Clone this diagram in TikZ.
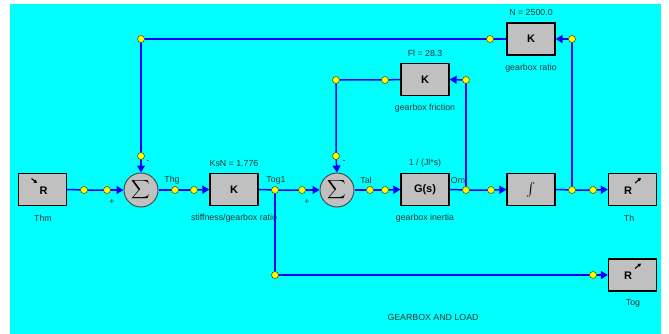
\documentclass[tikz,border=0pt]{standalone}
\usepackage{fontspec}
\setmainfont{Liberation Sans}
\usetikzlibrary{arrows.meta}
\definecolor{bgcyan}{RGB}{0,255,255}
\definecolor{wireblue}{RGB}{0,0,255}
\definecolor{boxgray}{RGB}{192,192,192}
\definecolor{dotyellow}{RGB}{255,255,0}
\definecolor{dotedge}{RGB}{90,90,0}
\pgfdeclarelayer{bgl}
\pgfdeclarelayer{wires}
\pgfsetlayers{bgl,wires,main}
\begin{document}
\begin{tikzpicture}[x=1pt,y=-1pt,
  font=\fontsize{8.8}{10}\selectfont,
  blk/.style={rectangle,draw=black,line width=1.3pt,fill=boxgray,minimum width=48pt,minimum height=32pt,inner sep=0pt,font=\fontsize{11}{12}\selectfont\bfseries},
  sumnode/.style={circle,draw=black!70,line width=1pt,fill=boxgray,minimum size=34pt,inner sep=0pt},
  pdot/.style={circle,draw=dotedge,line width=0.6pt,fill=dotyellow,minimum size=7pt,inner sep=0pt},
  wire/.style={draw=wireblue,line width=1.5pt},
  arr/.style={wire,-{Triangle[length=7pt,width=8pt]}},
  lbl/.style={text=black!80,inner sep=0pt},
  rlet/.style={font=\fontsize{11}{12}\selectfont\bfseries,inner sep=0pt},
  tinyarr/.style={draw=black,line width=1.1pt,-{Triangle[length=3pt,width=3.5pt]}}]
\useasboundingbox (0,0) rectangle (669,334);
\begin{pgfonlayer}{bgl}
\fill[bgcyan] (10,4) rectangle (661,334);
\end{pgfonlayer}
% blocks
\node[blk] (thm) at (42.5,189.5) {};
\node[sumnode] (sum1) at (141,190) {\scalebox{1.3}{$\displaystyle\sum$}};
\node[blk] (ks) at (234,189.5) {K};
\node[sumnode] (sum2) at (337,190) {\scalebox{1.3}{$\displaystyle\sum$}};
\node[blk] (gs) at (425,189.5) {G(s)};
\node[blk] (intg) at (531,189.5) {\scalebox{1.35}{$\int$}};
\node[blk] (th) at (632.5,189.5) {};
\node[blk] (kr) at (531,39) {K};
\node[blk] (kf) at (425,79.5) {K};
\node[blk] (tog) at (632.5,275) {};
% R symbols
\node[rlet] (thmR) at (43.5,190.5) {R};
\draw[tinyarr] (31.5,178.5) -- (37,183);
\node[rlet] (thR) at (628,190.5) {R};
\draw[tinyarr] (635,183) -- (641,178);
\node[rlet] (togR) at (628,276) {R};
\draw[tinyarr] (635,268.5) -- (641,263.5);
% dots
\node[pdot] (d1) at (84,190) {};
\node[pdot] (d2) at (107,190) {};
\node[pdot] (ds1) at (141,156) {};
\node[pdot] (d3) at (175,190) {};
\node[pdot] (d4) at (194,190) {};
\node[pdot] (d5) at (275,190) {};
\node[pdot] (d6) at (302,190) {};
\node[pdot] (ds2) at (336,156) {};
\node[pdot] (d7) at (370,190) {};
\node[pdot] (d8) at (385,190) {};
\node[pdot] (d9) at (466,190) {};
\node[pdot] (d10) at (491,190) {};
\node[pdot] (d11) at (572,190) {};
\node[pdot] (d12) at (593,190) {};
\node[pdot] (t1) at (141,39) {};
\node[pdot] (t2) at (490,39) {};
\node[pdot] (t3) at (572,39) {};
\node[pdot] (f1) at (336,80) {};
\node[pdot] (f2) at (385,80) {};
\node[pdot] (f3) at (466,80) {};
\node[pdot] (b1) at (275,275) {};
\node[pdot] (b2) at (593,275) {};
% wires
\begin{pgfonlayer}{wires}
\draw[wire] (thm.east) -- (d1.center) -- (d2.center);
\draw[arr] (d2.center) -- (sum1.west);
\draw[wire] (sum1.east) -- (d3.center) -- (d4.center);
\draw[arr] (d4.center) -- (ks.west);
\draw[wire] (ks.east) -- (d5.center) -- (d6.center);
\draw[arr] (d6.center) -- (sum2.west);
\draw[wire] (sum2.east) -- (d7.center) -- (d8.center);
\draw[arr] (d8.center) -- (gs.west);
\draw[wire] (gs.east) -- (d9.center) -- (d10.center);
\draw[arr] (d10.center) -- (intg.west);
\draw[wire] (intg.east) -- (d11.center) -- (d12.center);
\draw[arr] (d12.center) -- (th.west);
\draw[wire] (d11.center) -- (t3.center);
\draw[arr] (t3.center) -- (kr.east);
\draw[wire] (kr.west) -- (t2.center) -- (t1.center) -- (ds1.center);
\draw[arr] (ds1.center) -- (sum1.north);
\draw[wire] (d9.center) -- (f3.center);
\draw[arr] (f3.center) -- (kf.east);
\draw[wire] (kf.west) -- (f2.center) -- (f1.center) -- (ds2.center);
\draw[arr] (ds2.center) -- (sum2.north);
\draw[wire] (d5.center) -- (b1.center) -- (b2.center);
\draw[arr] (b2.center) -- (tog.west);
\end{pgfonlayer}
% labels
\node[lbl] (lthm) at (43,218) {Thm};
\node[lbl] (lm1) at (148,162) {-};
\node[lbl] (lp1) at (112,202) {+};
\node[lbl] (lthg) at (172,180) {Thg};
\node[lbl] (lksn) at (234,163) {KsN = 1.776};
\node[lbl] (lstf) at (234,218) {stiffness/gearbox ratio};
\node[lbl] (ltog1) at (276,180) {Tog1};
\node[lbl] (lp2) at (307,202) {+};
\node[lbl] (lm2) at (344,162) {-};
\node[lbl] (ltal) at (366,180) {Tal};
\node[lbl] (ljl) at (425,163) {1 / (Jl*s)};
\node[lbl] (lgi) at (425,218) {gearbox inertia};
\node[lbl] (lom) at (458,180) {Om};
\node[lbl] (lth) at (629,218) {Th};
\node[lbl] (ln) at (531,12) {N = 2500.0};
\node[lbl] (lgr) at (531,68) {gearbox ratio};
\node[lbl] (lfl) at (425,53) {Fl = 28.3};
\node[lbl] (lgf) at (425,108) {gearbox friction};
\node[lbl] (ltog) at (633,303) {Tog};
\node[lbl] (ltitle) at (433,317) {GEARBOX AND LOAD};
\end{tikzpicture}
\end{document}
